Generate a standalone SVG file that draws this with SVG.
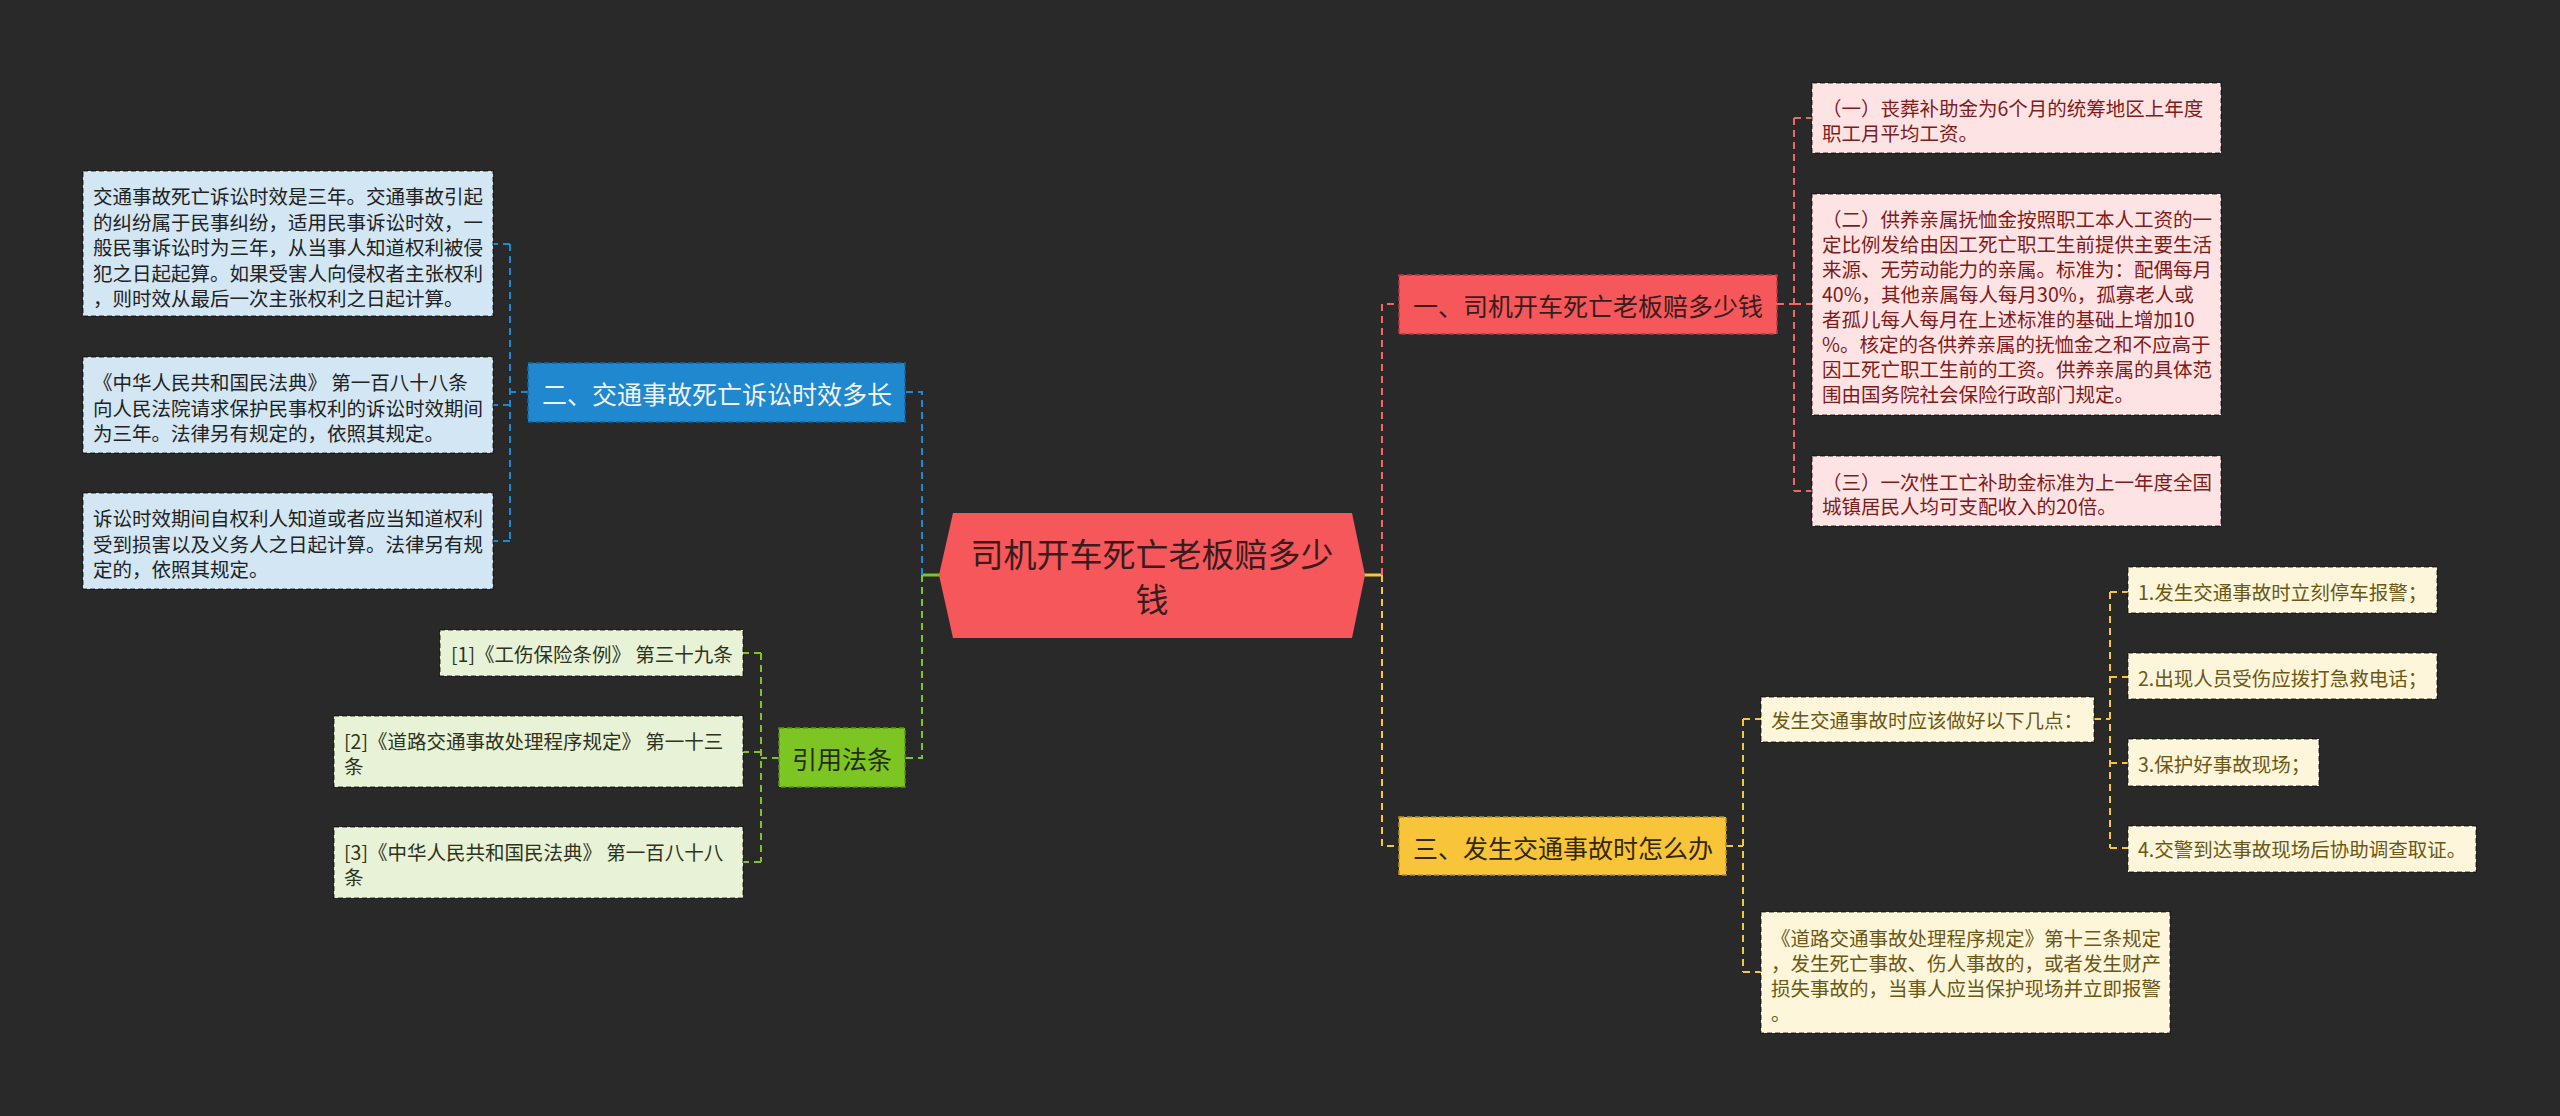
<svg xmlns="http://www.w3.org/2000/svg" width="2560" height="1116" viewBox="0 0 2560 1116">
<style>
text{font-family:"Noto Sans CJK SC","Noto Sans",sans-serif;dominant-baseline:central}
.s{font-size:19.5px}
.n{font-size:25px;text-anchor:middle}
.c{font-size:33px;text-anchor:middle;fill:#3a1c1c}
.bx{stroke:rgba(0,0,0,0.5);stroke-width:1.5;stroke-dasharray:5 3}
.blue-b{fill:#d3e6f4}
.green-b{fill:#e7f2d6}
.pink-b{fill:#fde3e3}
.cream-b{fill:#fdf6da}
.tb{fill:#222}
.tg{fill:#2d3320}
.tp{fill:#7d1c1c}
.tc{fill:#6b5816}
.ln{fill:none;stroke-width:2;stroke-dasharray:7 5}
.lb{stroke:#1f88cf}
.lg{stroke:#7dc523}
.lr{stroke:#ef6768}
.ly{stroke:#f7c63c}
</style>
<rect width="2560" height="1116" fill="#292929"/>
<g id="connectors">
  <line x1="922" y1="575" x2="940" y2="575" stroke="#7dc523" stroke-width="3"/>
  <line x1="1364" y1="575" x2="1382" y2="575" stroke="#f7c63c" stroke-width="3"/>
  <path class="ln lb" d="M922 575 V392 H905"/>
  <path class="ln lb" d="M528 392 H510 M510 244 V541 M510 244 H493 M510 405 H493 M510 541 H493"/>
  <path class="ln lg" d="M922 575 V758 H905"/>
  <path class="ln lg" d="M779 758 H761 M761 653 V862 M761 653 H743 M761 752 H743 M761 862 H743"/>
  <path class="ln lr" d="M1382 575 V304 H1399"/>
  <path class="ln lr" d="M1777 304 H1794 M1794 118 V491 M1794 118 H1812 M1794 304 H1812 M1794 491 H1812"/>
  <path class="ln ly" d="M1382 575 V846 H1399"/>
  <path class="ln ly" d="M1726 846 H1743 M1743 719 V972 M1743 719 H1761 M1743 972 H1761"/>
  <path class="ln ly" d="M2094 719 H2110 M2110 592 V848 M2110 592 H2128 M2110 677 H2128 M2110 763 H2128 M2110 848 H2128"/>
</g>
<g id="center">
  <polygon points="953,513 1352,513 1365,575 1352,638 953,638 939,575" fill="#f5575b"/>
  <text class="c" x="1152" y="553">司机开车死亡老板赔多少</text>
  <text class="c" x="1152" y="598">钱</text>
</g>
<g id="node-2">
  <rect x="528" y="363" width="377" height="59" fill="#1f88cf" stroke="#15659c" stroke-width="1.5" stroke-dasharray="5 3"/>
  <text class="n" x="717" y="393" fill="#f2f2f2">二、交通事故死亡诉讼时效多长</text>
</g>
<g id="box-2a">
  <rect class="bx blue-b" x="83" y="171" width="410" height="145"/>
  <text class="s tb" x="93"><tspan x="93" y="195">交通事故死亡诉讼时效是三年。交通事故引起</tspan><tspan x="93" y="220.5">的纠纷属于民事纠纷，适用民事诉讼时效，一</tspan><tspan x="93" y="246">般民事诉讼时为三年，从当事人知道权利被侵</tspan><tspan x="93" y="271.5">犯之日起起算。如果受害人向侵权者主张权利</tspan><tspan x="93" y="297">，则时效从最后一次主张权利之日起计算。</tspan></text>
</g>
<g id="box-2b">
  <rect class="bx blue-b" x="83" y="357" width="410" height="96"/>
  <text class="s tb"><tspan x="93" y="381">《中华人民共和国民法典》 第一百八十八条</tspan><tspan x="93" y="406.5">向人民法院请求保护民事权利的诉讼时效期间</tspan><tspan x="93" y="432">为三年。法律另有规定的，依照其规定。</tspan></text>
</g>
<g id="box-2c">
  <rect class="bx blue-b" x="83" y="493" width="410" height="96"/>
  <text class="s tb"><tspan x="93" y="517">诉讼时效期间自权利人知道或者应当知道权利</tspan><tspan x="93" y="542.5">受到损害以及义务人之日起计算。法律另有规</tspan><tspan x="93" y="568">定的，依照其规定。</tspan></text>
</g>
<g id="node-ref">
  <rect x="779" y="728" width="126" height="59" fill="#7dc523" stroke="#5a9317" stroke-width="1.5" stroke-dasharray="5 3"/>
  <text class="n" x="842" y="758" fill="#2a2a1a">引用法条</text>
</g>
<g id="ref-1">
  <rect class="bx green-b" x="440" y="630" width="303" height="46"/>
  <text class="s tg" x="451" y="653">[1]《工伤保险条例》 第三十九条</text>
</g>
<g id="ref-2">
  <rect class="bx green-b" x="334" y="716" width="409" height="71"/>
  <text class="s tg"><tspan x="344" y="740">[2]《道路交通事故处理程序规定》 第一十三</tspan><tspan x="344" y="765">条</tspan></text>
</g>
<g id="ref-3">
  <rect class="bx green-b" x="334" y="827" width="409" height="71"/>
  <text class="s tg"><tspan x="344" y="851">[3]《中华人民共和国民法典》 第一百八十八</tspan><tspan x="344" y="876">条</tspan></text>
</g>
<g id="node-1">
  <rect x="1399" y="275" width="378" height="59" fill="#f5575b" stroke="#b53a3e" stroke-width="1.5" stroke-dasharray="5 3"/>
  <text class="n" x="1588" y="305" fill="#3a1c1c">一、司机开车死亡老板赔多少钱</text>
</g>
<g id="box-1a">
  <rect class="bx pink-b" x="1812" y="83" width="409" height="70"/>
  <text class="s tp"><tspan x="1822" y="107">（一）丧葬补助金为6个月的统筹地区上年度</tspan><tspan x="1822" y="132">职工月平均工资。</tspan></text>
</g>
<g id="box-1b">
  <rect class="bx pink-b" x="1812" y="194" width="409" height="221"/>
  <text class="s tp"><tspan x="1822" y="218">（二）供养亲属抚恤金按照职工本人工资的一</tspan><tspan x="1822" y="243">定比例发给由因工死亡职工生前提供主要生活</tspan><tspan x="1822" y="268">来源、无劳动能力的亲属。标准为：配偶每月</tspan><tspan x="1822" y="293">40%，其他亲属每人每月30%，孤寡老人或</tspan><tspan x="1822" y="318">者孤儿每人每月在上述标准的基础上增加10</tspan><tspan x="1822" y="343">%。核定的各供养亲属的抚恤金之和不应高于</tspan><tspan x="1822" y="368">因工死亡职工生前的工资。供养亲属的具体范</tspan><tspan x="1822" y="393">围由国务院社会保险行政部门规定。</tspan></text>
</g>
<g id="box-1c">
  <rect class="bx pink-b" x="1812" y="456" width="409" height="70"/>
  <text class="s tp"><tspan x="1822" y="481">（三）一次性工亡补助金标准为上一年度全国</tspan><tspan x="1822" y="505">城镇居民人均可支配收入的20倍。</tspan></text>
</g>
<g id="node-3">
  <rect x="1399" y="817" width="327" height="58" fill="#f8c43a" stroke="#b8902a" stroke-width="1.5" stroke-dasharray="5 3"/>
  <text class="n" x="1563" y="847" fill="#33280a">三、发生交通事故时怎么办</text>
</g>
<g id="box-3a">
  <rect class="bx cream-b" x="1761" y="697" width="333" height="45"/>
  <text class="s tc" x="1771" y="719">发生交通事故时应该做好以下几点：</text>
</g>
<g id="item-1">
  <rect class="bx cream-b" x="2128" y="567" width="309" height="46"/>
  <text class="s tc" x="2138" y="591">1.发生交通事故时立刻停车报警；</text>
</g>
<g id="item-2">
  <rect class="bx cream-b" x="2128" y="653" width="309" height="46"/>
  <text class="s tc" x="2138" y="677">2.出现人员受伤应拨打急救电话；</text>
</g>
<g id="item-3">
  <rect class="bx cream-b" x="2128" y="739" width="191" height="47"/>
  <text class="s tc" x="2138" y="763">3.保护好事故现场；</text>
</g>
<g id="item-4">
  <rect class="bx cream-b" x="2128" y="826" width="348" height="46"/>
  <text class="s tc" x="2138" y="848">4.交警到达事故现场后协助调查取证。</text>
</g>
<g id="box-3b">
  <rect class="bx cream-b" x="1761" y="912" width="409" height="121"/>
  <text class="s tc"><tspan x="1771" y="937">《道路交通事故处理程序规定》第十三条规定</tspan><tspan x="1771" y="962">，发生死亡事故、伤人事故的，或者发生财产</tspan><tspan x="1771" y="987">损失事故的，当事人应当保护现场并立即报警</tspan><tspan x="1771" y="1012">。</tspan></text>
</g>
</svg>
